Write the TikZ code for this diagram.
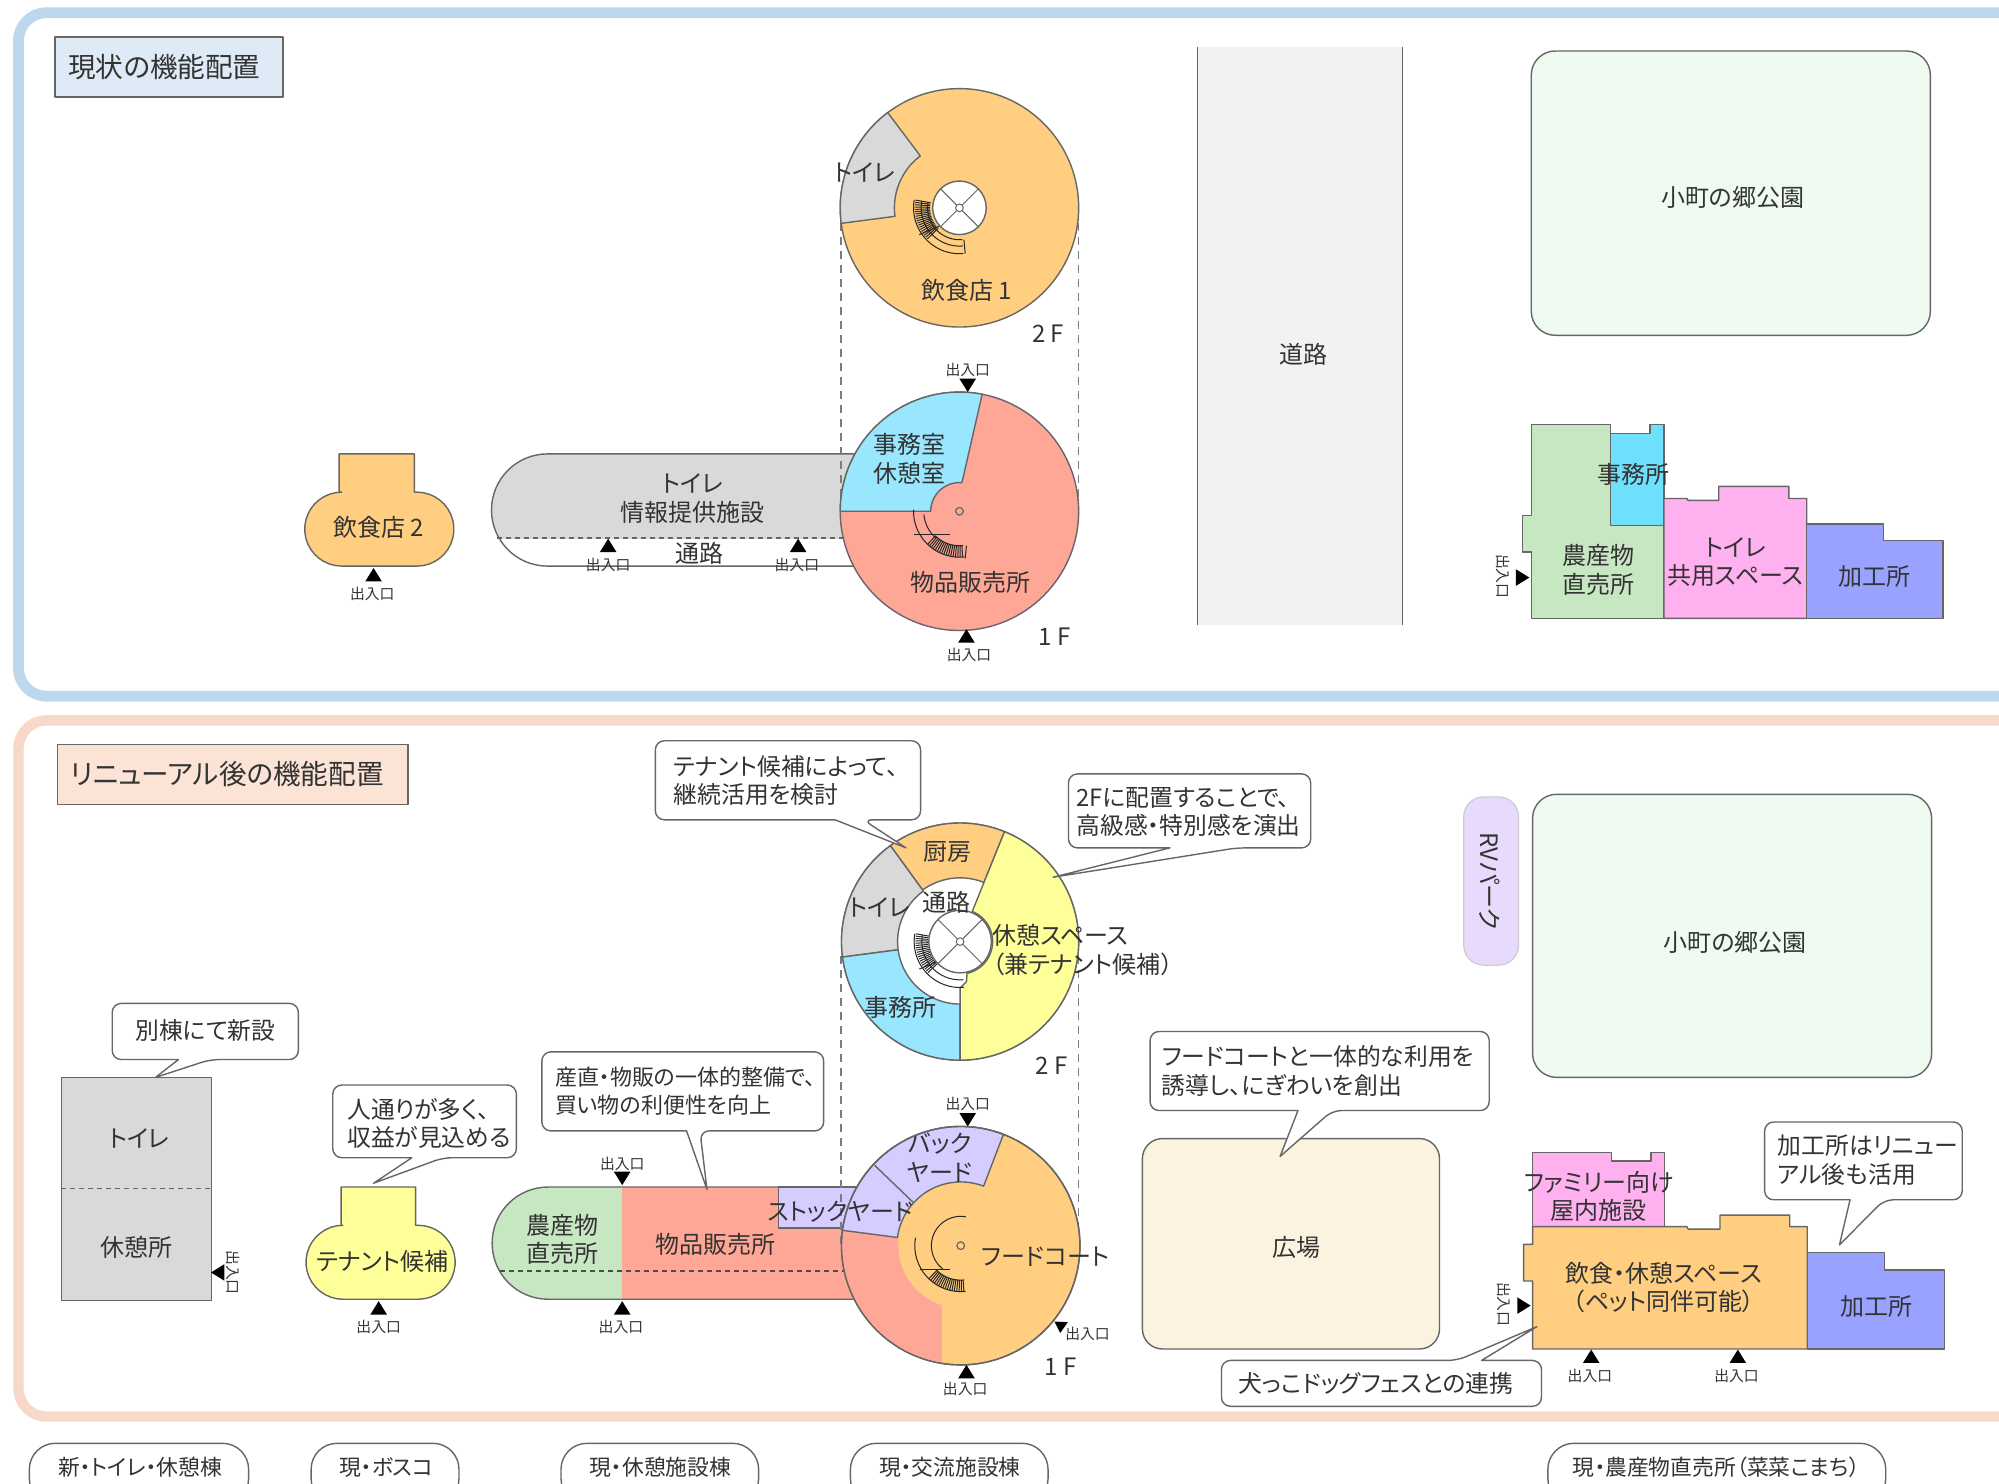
\documentclass[tikz,border=0pt]{standalone}
\usepackage{fontspec}
\setmainfont[RawFeature=+palt]{Noto Sans CJK JP}
\definecolor{txt}{HTML}{333333}
\definecolor{edge}{HTML}{666666}
\definecolor{panelblue}{HTML}{BDD7EE}
\definecolor{panelred}{HTML}{F8D9C9}
\definecolor{titleblue}{HTML}{DEEBF7}
\definecolor{titlered}{HTML}{FBE3D6}
\definecolor{cgray}{HTML}{D9D9D9}
\definecolor{corange}{HTML}{FFCE80}
\definecolor{csalmon}{HTML}{FFA797}
\definecolor{csky}{HTML}{99E6FF}
\definecolor{ccyan}{HTML}{6FE0FC}
\definecolor{cgreen}{HTML}{C6E7C1}
\definecolor{cpink}{HTML}{FFB0EE}
\definecolor{cviolet}{HTML}{99A3FF}
\definecolor{cyellow}{HTML}{FFFF99}
\definecolor{clav}{HTML}{D5CCFF}
\definecolor{cpark}{HTML}{EFFAF0}
\definecolor{croad}{HTML}{F2F2F2}
\definecolor{cplaza}{HTML}{FBF2DF}
\definecolor{crv}{HTML}{E8DAFC}
\tikzset{
  x=0.6375pt,y=-0.6375pt,
  lbl/.style={text=txt,font=\fontsize{12}{14.2}\selectfont,align=center,inner sep=0pt},
  entry/.style={text=txt,font=\fontsize{7.4}{9}\selectfont,inner sep=0pt},
  calltxt/.style={text=txt,font=\fontsize{11.9}{14.2}\selectfont,align=left,inner sep=0pt,anchor=west},
  ttl/.style={text=txt,font=\fontsize{13.8}{16}\selectfont,inner sep=0pt},
  foot/.style={text=txt,font=\fontsize{10.9}{12}\selectfont,inner sep=0pt},
  bline/.style={draw=edge,line width=0.7pt,line join=round},
  callout/.style={draw=edge,fill=white,line width=0.7pt,line join=round},
  guide/.style={draw=edge!85,line width=0.7pt,dash pattern=on 4pt off 3pt},
  stairline/.style={draw=black!85,line width=0.5pt},
}
\newcommand{\ringsec}[7]{\path[#1] plot[samples=40,domain=#6:#7] ({#2+#5*cos(\x)},{#3-#5*sin(\x)}) -- plot[samples=40,domain=#7:#6] ({#2+#4*cos(\x)},{#3-#4*sin(\x)}) -- cycle;}
\newcommand{\arcline}[6][stairline]{\draw[#1] plot[samples=40,domain=#5:#6] ({#2+#4*cos(\x)},{#3-#4*sin(\x)});}
\newcommand{\tup}[2]{\fill[black] (#1,#2-5.5) -- (#1+6.5,#2+5) -- (#1-6.5,#2+5) -- cycle;}
\newcommand{\tdn}[2]{\fill[black] (#1,#2+5.5) -- (#1+6.5,#2-5) -- (#1-6.5,#2-5) -- cycle;}
\newcommand{\tlf}[2]{\fill[black] (#1-5.5,#2) -- (#1+5,#2-6.5) -- (#1+5,#2+6.5) -- cycle;}
\newcommand{\trt}[2]{\fill[black] (#1+5.5,#2) -- (#1-5,#2-6.5) -- (#1-5,#2+6.5) -- cycle;}
\newcommand{\hatch}[7]{\foreach \a in {#6,#7,...,#5}{\draw[stairline] ({#1+#3*cos(\a)},{#2-#3*sin(\a)}) -- ({#1+#4*cos(\a)},{#2-#4*sin(\a)});}}
% x1 y1 x2 y2 baseRight tipx tipy baseLeft : tail on the lower edge
\newcommand{\callbot}[8]{\draw[callout,rounded corners=4.5pt] (#1,#2) -- (#3,#2) -- (#3,#4) -- (#5,#4) [sharp corners] -- (#6,#7) -- (#8,#4) [rounded corners=4.5pt] -- (#1,#4) -- cycle;}
\begin{document}
\begin{tikzpicture}
\clip (0,0) rectangle (1567.84,1163.92);
\fill[white] (0,0) rectangle (1567.84,1163.92);
% panels
\draw[panelblue,line width=5.4pt,rounded corners=14pt] (14.5,10) rectangle (1700,546);
\draw[panelred,line width=5.2pt,rounded corners=14pt] (14.5,565) rectangle (1700,1111);
\draw[bline,fill=titleblue] (43,29) rectangle (222,76);
\node[ttl] (t1) at (129,53) {現状の機能配置};
\draw[bline,fill=titlered] (45,584) rectangle (320,631);
\node[ttl] (t2) at (178,607) {リニューアル後の機能配置};

%%%%%% TOP PANEL
% road
\fill[croad] (939,37) rectangle (1100,490);
\draw[edge,line width=0.7pt] (939,37) -- (939,490) (1100,37) -- (1100,490);
\node[lbl] (road) at (1022,278) {道路};
% park
\draw[bline,fill=cpark,rounded corners=12pt] (1201,40) rectangle (1514,263);
\node[lbl] (park1) at (1359,155) {小町の郷公園};
% building
\draw[bline,fill=cgreen] (1201,333) -- (1263,333) -- (1263,412) -- (1305,412) -- (1305,485) -- (1201,485) -- (1201,433) -- (1194,433) -- (1194,404.5) -- (1201,404.5) -- cycle;
\draw[bline,fill=ccyan] (1263,340) -- (1294,340) -- (1294,333) -- (1305,333) -- (1305,412) -- (1263,412) -- cycle;
\draw[bline,fill=cpink] (1305,391) -- (1323,391) -- (1324,392.5) -- (1348,392.5) -- (1348,381.5) -- (1403,381.5) -- (1403,391) -- (1417,391) -- (1417,485) -- (1305,485) -- cycle;
\draw[bline,fill=cviolet] (1417,411) -- (1477,411) -- (1477,424) -- (1524,424) -- (1524,485) -- (1417,485) -- cycle;
\node[lbl] (a1) at (1281,372) {事務所};
\node[lbl] (a2) at (1254,447) {農産物\\直売所};
\node[lbl] (a3) at (1361,441) {トイレ\\共用スペース};
\node[lbl] (a4) at (1470,452) {加工所};
\trt{1194}{453}
\node[entry,rotate=-90] (a5) at (1179,452) {出入口};
% shop 2
\draw[bline,fill=corange] (266,356) -- (325,356) -- (325,386) -- plot[samples=20,domain=90:-90] ({327+29*cos(\x)},{415-29*sin(\x)}) -- plot[samples=20,domain=270:90] ({268+29*cos(\x)},{415-29*sin(\x)}) -- (266,386) -- cycle;
\node[lbl] (b1) at (297,414) {飲食店 2};
\tup{293}{451}
\node[entry] (b2) at (292,466) {出入口};
% pill
\begin{scope}
\clip (380,350) rectangle (705,422);
\fill[cgray,rounded corners=28pt] (385.5,356) rectangle (720,444);
\end{scope}
\draw[bline,rounded corners=28pt] (385.5,356) rectangle (720,444);
\draw[edge,line width=0.7pt,dash pattern=on 2.5pt off 2pt] (390,422) -- (690,422);
\draw[guide] (659.5,175) -- (659.5,401);
\draw[guide] (846,175) -- (846,401);
\node[lbl] (b3) at (543,391) {トイレ\\情報提供施設};
\node[lbl] (b4) at (549,434) {通路};
\tup{477}{428}
\tup{626}{428}
\node[entry] (b5) at (477,443) {出入口};
\node[entry] (b6) at (625,443) {出入口};
% 1F
\draw[bline,fill=csalmon] (752.5,401) circle[radius=93.5];
\path[bline,fill=csky] plot[samples=50,domain=79:180] ({752.5+93.5*cos(\x)},{401-93.5*sin(\x)}) -- plot[samples=30,domain=180:85] ({752.5+22.5*cos(\x)},{401-22.5*sin(\x)}) -- cycle;
\draw[edge,line width=0.6pt] (752.5,401) circle[radius=3];
\arcline{752.5}{401}{28}{185}{228}
\arcline{752.5}{401}{36}{178}{225}
\arcline{752.5}{401}{36}{225}{276}
\arcline{752.5}{401}{27}{225}{276}
\hatch{752.5}{401}{27}{36}{276}{226}{229}
\draw[stairline] (717,419) -- (745,419);
\draw[stairline] (758,428) -- (757,438);
\node[lbl] (c1) at (713,360) {事務室\\休憩室};
\node[lbl] (c2) at (761,457) {物品販売所};
\tdn{759}{302}
\node[entry] (c3) at (759,290) {出入口};
\tup{758}{499}
\node[entry] (c4) at (760,514) {出入口};
\node[lbl] (c5) at (827,499) {1 F};
% 2F
\draw[bline,fill=corange] (752.5,163) circle[radius=93.5];
\ringsec{bline,fill=cgray}{752.5}{163}{51}{93.5}{127}{187.5}
\arcline{752.5}{163}{25}{170}{275}
\arcline{752.5}{163}{30}{170}{275}
\arcline{752.5}{163}{36}{170}{275}
\hatch{752.5}{163}{23}{35}{225}{170}{173}
\draw[stairline] (721,184) -- (745,174);
\draw[stairline] (756,188) -- (757,199);
\draw[bline,fill=white] (752.5,163) circle[radius=21];
\draw[edge,line width=0.5pt] (737.6,148.1) -- (767.4,177.9) (737.6,177.9) -- (767.4,148.1);
\draw[edge,line width=0.5pt,fill=white] (752.5,163) circle[radius=3];
\node[lbl] (c6) at (678,135) {トイレ};
\node[lbl] (c7) at (758,228) {飲食店 1};
\node[lbl] (c8) at (822,262) {2 F};

%%%%%% BOTTOM PANEL
\draw[bline,fill=cpark,rounded corners=12pt] (1202,623) rectangle (1515,845);
\node[lbl] (park2) at (1361,739) {小町の郷公園};
\draw[draw=black!20,fill=crv,line width=0.6pt,rounded corners=10pt] (1148,625) rectangle (1191,757);
\node[lbl,rotate=-90] (rv) at (1168,691) {RVパーク};
\draw[bline,fill=cplaza,rounded corners=10pt] (896,893) rectangle (1129,1058);
\node[lbl] (plaza) at (1017,978) {広場};
% building
\draw[bline,fill=cpink] (1202,904) -- (1264,904) -- (1264,910.6) -- (1295,910.6) -- (1295,904) -- (1305.6,904) -- (1305.6,962) -- (1202,962) -- cycle;
\draw[bline,fill=corange] (1202,962) -- (1323,962) -- (1324,964) -- (1349,964) -- (1349,953) -- (1403.7,953) -- (1403.7,962) -- (1417.4,962) -- (1417.4,1058) -- (1202,1058) -- (1202,1004.7) -- (1195,1004.7) -- (1195,976) -- (1202,976) -- cycle;
\draw[bline,fill=cviolet] (1417.4,982.4) -- (1477.8,982.4) -- (1477.8,996) -- (1525,996) -- (1525,1058) -- (1417.4,1058) -- cycle;
\node[lbl] (d1) at (1254,938.5) {ファミリー向け\\屋内施設};
\node[lbl] (d2) at (1305,1010) {飲食・休憩スペース\\（ペット同伴可能）};
\node[lbl] (d3) at (1472,1025) {加工所};
\trt{1195}{1024}
\node[entry,rotate=-90] (d4) at (1180,1023) {出入口};
\tup{1248}{1064}
\tup{1363}{1064}
\node[entry] (d5) at (1247,1079) {出入口};
\node[entry] (d6) at (1362,1079) {出入口};
% toilets
\draw[bline,fill=cgray] (48,845) rectangle (166,1020);
\draw[edge,line width=0.7pt,dash pattern=on 2.5pt off 2pt] (48,932) -- (166,932);
\node[lbl] (e1) at (109,893) {トイレ};
\node[lbl] (e2) at (107,978) {休憩所};
\tlf{171}{998}
\node[entry,rotate=-90] (e3) at (183,998) {出入口};
% tenant
\draw[bline,fill=cyellow] (267.5,931) -- (326,931) -- (326,961) -- plot[samples=20,domain=90:-90] ({328+29*cos(\x)},{990-29*sin(\x)}) -- plot[samples=20,domain=270:90] ({269+29*cos(\x)},{990-29*sin(\x)}) -- (267.5,961) -- cycle;
\node[lbl] (e4) at (300,989) {テナント候補};
\tup{297}{1026}
\node[entry] (e5) at (297,1041) {出入口};
% pill
\begin{scope}
\clip (380,925) rectangle (488,1025);
\fill[cgreen,rounded corners=28pt] (386,931) rectangle (720,1019);
\end{scope}
\begin{scope}
\clip (488,925) rectangle (720,1025);
\fill[csalmon,rounded corners=28pt] (386,931) rectangle (720,1019);
\end{scope}
\draw[bline,fill=clav] (610.5,931) rectangle (720,963);
\draw[bline,rounded corners=28pt] (386,931) rectangle (720,1019);
\draw[draw=black!70,line width=0.7pt,dash pattern=on 2.5pt off 2pt] (392,997) -- (690,997);
\draw[guide] (659.5,750) -- (659.5,977);
\draw[guide] (846,750) -- (846,977);
\node[lbl] (e6) at (441,972) {農産物\\直売所};
\node[lbl] (e7) at (561,976) {物品販売所};
\tdn{488}{924}
\tup{488}{1026}
\node[entry] (e8) at (488,913) {出入口};
\node[entry] (e9) at (487,1041) {出入口};
% 1F
\draw[bline,fill=corange] (753.5,977) circle[radius=93.5];
\fill[csalmon] plot[samples=40,domain=172.6:261] ({753.5+93*cos(\x)},{977-93*sin(\x)}) -- (738.6,1024) -- plot[samples=40,domain=252.3:172.6] ({753.5+49*cos(\x)},{977-49*sin(\x)}) -- cycle;
\ringsec{bline,fill=clav}{753.5}{977}{50}{93.5}{69}{172.6}
\draw[bline] (686,914) -- (716,942.8);
\draw[bline,fill=none] (753.5,977) circle[radius=93.5];
\draw[edge,line width=0.6pt] (753.5,977) circle[radius=3];
\arcline{753.5}{977}{23}{80}{232}
\arcline{753.5}{977}{36}{170}{225}
\arcline{753.5}{977}{36}{225}{276}
\arcline{753.5}{977}{27}{225}{276}
\hatch{753.5}{977}{27}{36}{276}{226}{229}
\draw[stairline] (721.5,995.5) -- (745,995.5);
\node[lbl] (f1) at (737,908) {バック\\ヤード};
\node[lbl] (f2) at (659,950) {ストックヤード};
\node[lbl] (f3) at (820,986) {フードコート};
\tdn{759}{878}
\node[entry] (f4) at (759,866) {出入口};
\fill[black] (827,1036.5) -- (837.5,1037) -- (831.5,1045.5) -- cycle;
\node[entry] (f5) at (853,1046) {出入口};
\tup{758}{1076}
\node[entry] (f6) at (757,1089) {出入口};
\node[lbl] (f7) at (832,1072) {1 F};
% 2F
\draw[bline,fill=white] (753,738.5) circle[radius=93];
\ringsec{bline,fill=corange}{753}{738.5}{50}{93}{68}{126}
\ringsec{bline,fill=cgray}{753}{738.5}{49}{93}{126}{187.5}
\ringsec{bline,fill=csky}{753}{738.5}{49}{93}{187.5}{270}
\path[bline,fill=cyellow] plot[samples=70,domain=68:-90] ({753+93*cos(\x)},{738.5-93*sin(\x)}) -- (753,775) -- (758,770) -- (758.5,763) -- plot[samples=30,domain=-77:68] ({753+25.5*cos(\x)},{738.5-25.5*sin(\x)}) -- cycle;
\arcline{753}{738.5}{30}{170}{275}
\arcline{753}{738.5}{36}{170}{275}
\hatch{753}{738.5}{25}{35}{225}{170}{173}
\draw[stairline] (721,760) -- (745,750);
\draw[bline,fill=white] (753,738.5) circle[radius=24.5];
\draw[edge,line width=0.5pt] (735.7,721.2) -- (770.3,755.8) (735.7,755.8) -- (770.3,721.2);
\draw[edge,line width=0.5pt,fill=white] (753,738.5) circle[radius=3];
\node[lbl] (g1) at (743,668) {厨房};
\node[lbl] (g2) at (690,712) {トイレ};
\node[lbl] (g3) at (742,708) {通路};
\node[lbl] (g4) at (706,790) {事務所};
\node[lbl,align=left,anchor=west] (g5) at (778,745) {休憩スペース\\（兼テナント候補）};
\node[lbl] (g6) at (825,836) {2 F};

%%%%%% CALLOUTS
\callbot{514}{581}{722}{643}{677}{710.6}{665}{655}
\node[calltxt] (h1) at (528,612) {テナント候補によって、\\継続活用を検討};
\callbot{838}{607}{1028}{665}{970}{826}{688}{917.6}
\node[calltxt] (h2) at (844,637) {2Fに配置することで、\\高級感・特別感を演出};
\callbot{88}{787}{234}{831}{165}{122}{845}{140}
\node[calltxt] (h3) at (106,808) {別棟にて新設};
\callbot{261}{851}{405}{908}{347.5}{293}{928}{323}
\node[calltxt] (h4) at (272,881) {人通りが多く、\\収益が見込める};
\callbot{425}{825}{646}{887}{549}{554.5}{933}{538.5}
\node[calltxt,font=\fontsize{11}{14.2}\selectfont] (h5) at (435,856) {産直・物販の一体的整備で、\\買い物の利便性を向上};
\callbot{902}{809}{1168}{871}{1045}{1004}{907}{1018}
\node[calltxt] (h6) at (911,840) {フードコートと一体的な利用を\\誘導し、にぎわいを創出};
\callbot{1384}{880}{1539}{941}{1477.8}{1442.7}{976.4}{1451}
\node[calltxt] (h7) at (1394,910) {加工所はリニュー\\アル後も活用};
\draw[callout,rounded corners=4.5pt] (958,1103) -- (958,1067) -- (1142.8,1067) [sharp corners] -- (1205.4,1040.5) -- (1162,1067) [rounded corners=4.5pt] -- (1209,1067) -- (1209,1103) -- cycle;
\node[calltxt] (h8) at (971,1085) {犬っこドッグフェスとの連携};

%%%%%% FOOT
\draw[bline,rounded corners=13pt] (23,1132) rectangle (195,1180);
\draw[bline,rounded corners=13pt] (244,1132) rectangle (360,1180);
\draw[bline,rounded corners=13pt] (440,1132) rectangle (595,1180);
\draw[bline,rounded corners=13pt] (667,1132) rectangle (822,1180);
\draw[bline,rounded corners=13pt] (1214,1132) rectangle (1479,1180);
\node[foot] (k1) at (110,1151) {新・トイレ・休憩棟};
\node[foot] (k2) at (303,1151) {現・ボスコ};
\node[foot] (k3) at (518,1151) {現・休憩施設棟};
\node[foot] (k4) at (745,1151) {現・交流施設棟};
\node[foot] (k5) at (1346,1151) {現・農産物直売所（菜菜こまち）};
\end{tikzpicture}
\end{document}
